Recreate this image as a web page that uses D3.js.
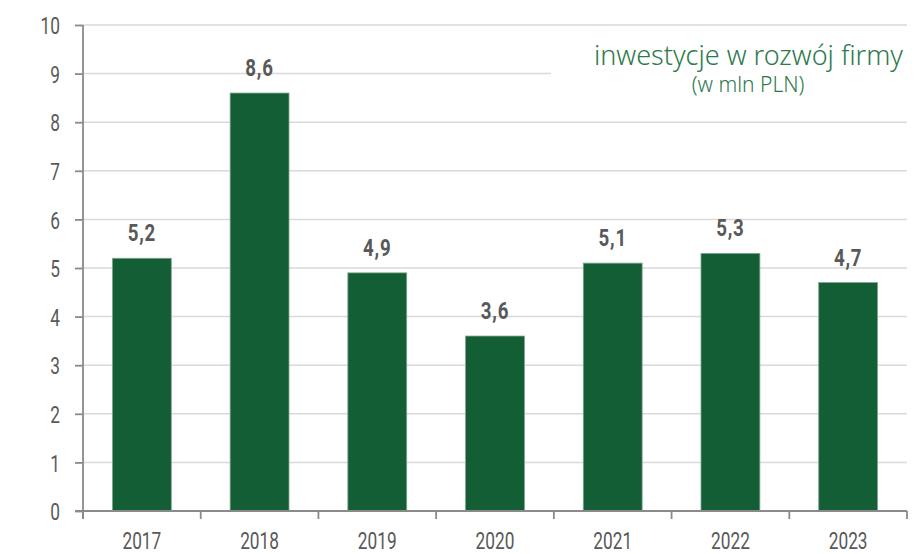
<!DOCTYPE html>
<html>
<head>
<meta charset="utf-8">
<script src="https://cdn.jsdelivr.net/npm/d3@7"></script>
<style>
  html, body { margin: 0; padding: 0; background: #fff; }
  .num { font-family: Roboto, "Noto Sans", sans-serif; }
</style>
</head>
<body>
<div id="chart"></div>
<script>
const years = ['2017', '2018', '2019', '2020', '2021', '2022', '2023'];
const values = [5.2, 8.6, 4.9, 3.6, 5.1, 5.3, 4.7];
const yTicks = [0, 1, 2, 3, 4, 5, 6, 7, 8, 9, 10];
const title = 'inwestycje w rozwój firmy';
const subtitle = '(w mln PLN)';

const W = 917, H = 554;
const M = { top: 25, right: 10, bottom: 43, left: 83 };
const innerW = W - M.left - M.right, innerH = H - M.top - M.bottom;

const BAR = '#145e35', INK = '#595959', GREEN = '#2e7a4c', AXIS = '#8a8a8a';
const SQUEEZE = 0.72; // condensed look for the numeric font

const svg = d3.select('#chart').append('svg')
  .attr('width', W).attr('height', H);
const g = svg.append('g').attr('transform', `translate(${M.left},${M.top})`);

const x = d3.scaleBand().domain(years).range([0, innerW]).paddingInner(0.5).paddingOuter(0.25);
const y = d3.scaleLinear().domain([0, 10]).range([innerH, 0]);

// gridlines (the 9 line stops short of the title)
g.append('g').selectAll('line').data(yTicks.filter(d => d > 0)).join('line')
  .attr('x1', 0)
  .attr('x2', d => d === 9 ? 468 : innerW)
  .attr('y1', d => y(d)).attr('y2', d => y(d))
  .attr('stroke', '#d9d9d9').attr('stroke-width', 1.5);

// bars
g.append('g').selectAll('rect').data(values).join('rect')
  .attr('x', (d, i) => x(years[i]))
  .attr('y', d => y(d))
  .attr('width', x.bandwidth())
  .attr('height', d => innerH - y(d))
  .attr('fill', BAR)
  .attr('stroke', '#7fa48c').attr('stroke-width', 0.8);

// value labels
g.append('g').selectAll('text').data(values).join('text')
  .attr('class', 'num')
  .attr('transform', (d, i) =>
    `translate(${x(years[i]) + x.bandwidth() / 2},${y(d) - 17}) scale(0.78,1)`)
  .attr('text-anchor', 'middle')
  .style('font-size', '24px').style('font-weight', 700)
  .style('letter-spacing', '1px')
  .style('fill', INK)
  .text(d => d.toFixed(1).replace('.', ','));

// y axis
const gy = g.append('g')
  .call(d3.axisLeft(y).tickValues(yTicks).tickSize(8));
gy.select('.domain').attr('stroke', AXIS).attr('stroke-width', 1.8)
  .attr('d', `M0,${innerH + 8}V0`);
gy.selectAll('.tick line').attr('stroke', AXIS).attr('stroke-width', 1.8);
gy.selectAll('.tick text').attr('class', 'num')
  .attr('x', null).attr('dy', '0.36em')
  .attr('transform', `translate(-23,0) scale(${SQUEEZE},1)`)
  .style('font-size', '24px').style('fill', INK);

// x axis: ticks at category boundaries
const gx = g.append('g').attr('transform', `translate(0,${innerH})`);
gx.append('line').attr('x1', -8).attr('x2', innerW)
  .attr('stroke', AXIS).attr('stroke-width', 1.8);
const step = x.step();
gx.selectAll('line.tk').data(d3.range(years.length + 1)).join('line')
  .attr('class', 'tk')
  .attr('x1', i => i * step).attr('x2', i => i * step)
  .attr('y1', 0).attr('y2', 8)
  .attr('stroke', AXIS).attr('stroke-width', 1.8);
gx.selectAll('text').data(years).join('text')
  .attr('class', 'num')
  .attr('transform', d => `translate(${x(d) + x.bandwidth() / 2},38) scale(${SQUEEZE},1)`)
  .attr('text-anchor', 'middle')
  .style('font-size', '24px').style('fill', INK)
  .text(d => d);

// title
svg.append('text')
  .attr('x', 903).attr('y', 65).attr('text-anchor', 'end')
  .style('font-family', '"Noto Sans", "Open Sans", sans-serif')
  .style('font-size', '27px').style('font-weight', 300).style('fill', GREEN)
  .text(title);
svg.append('text')
  .attr('x', 748).attr('y', 92).attr('text-anchor', 'middle')
  .style('font-family', '"Noto Sans", "Open Sans", sans-serif')
  .style('font-size', '21px').style('font-weight', 300).style('fill', GREEN)
  .text(subtitle);
</script>
</body>
</html>
